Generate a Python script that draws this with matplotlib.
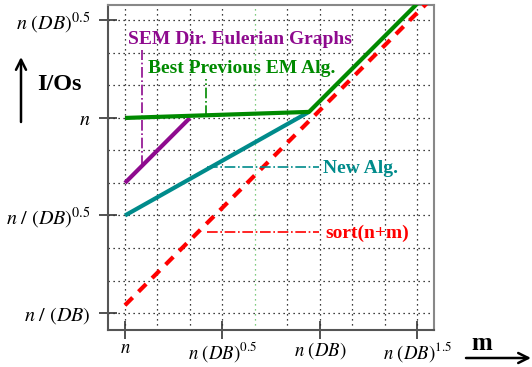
import matplotlib
matplotlib.use("Agg")
import matplotlib.pyplot as plt

plt.rcParams['mathtext.fontset'] = 'stix'
plt.rcParams['font.family'] = ['Liberation Serif', 'DejaVu Serif']

# exponents of DB relative to n
x_ticks = [0, 0.5, 1, 1.5]
x_tick_labels = [r'$n$', r'$n\ (DB)^{0.5}$', r'$n\ (DB)$', r'$n\ (DB)^{1.5}$']
y_ticks = [-1, -0.5, 0, 0.5]
y_tick_labels = [r'$n\ /\ (DB)$', r'$n\ /\ (DB)^{0.5}$', r'$n$', r'$n\ (DB)^{0.5}$']

sort_x = [0, 1.65]
sort_y = [-0.96, 0.69]
prev_x = [0, 0.944, 1.65]
prev_y = [0, 0.031, 0.737]
new_x = [0, 0.944]
new_y = [-0.5, 0.031]
sem_x = [0, 0.333]
sem_y = [-0.333, 0]

labels = ['SEM Dir. Eulerian Graphs', 'Best Previous EM Alg.', 'New Alg.', 'sort(n+m)']

PURPLE = '#8e0a8e'
GREEN = '#008a00'
TEAL = '#008b8b'
RED = '#ff0000'

fig = plt.figure(figsize=(5.32, 3.67), dpi=100)
ax = fig.add_axes([108/532, 1-330/367, (434-108)/532, (330-5)/367])
ax.set_xlim(-0.087, 1.585)
ax.set_ylim(-1.087, 0.579)

# grid
for i in range(0, 10):
    gx = i/6
    col = '#55bb55' if i == 4 else 'black'
    ax.axvline(gx, color=col, lw=0.9, ls=(0, (1, 3)), zorder=1)
for i in range(-6, 4):
    gy = i/6
    ax.axhline(gy, color='black', lw=0.9, ls=(0, (1, 3)), zorder=1)

ax.plot(sort_x, sort_y, color=RED, lw=3, ls=(0, (2.6, 2.0)), zorder=3)
ax.plot(new_x, new_y, color=TEAL, lw=3, solid_capstyle='butt', zorder=4)
ax.plot(sem_x, sem_y, color=PURPLE, lw=3, solid_capstyle='butt', zorder=4)
ax.plot(prev_x, prev_y, color=GREEN, lw=3, solid_capstyle='butt', zorder=5)

# annotation leaders
ax.plot([0.087, 0.087], [-0.246, 0.349], color=PURPLE, lw=1.2, ls='-.', zorder=3)
ax.plot([0.415, 0.415], [0.012, 0.20], color=GREEN, lw=1.2, ls='-.', zorder=3)
ax.plot([0.42, 0.995], [-0.251, -0.251], color=TEAL, lw=1.2, ls='-.', zorder=3)
ax.plot([0.42, 0.995], [-0.585, -0.585], color=RED, lw=1.2, ls='-.', zorder=3)

tfs = 14
ax.text(0.015, 0.379, labels[0], color=PURPLE, fontsize=tfs, fontweight='bold', va='baseline', ha='left', zorder=6)
ax.text(0.118, 0.229, labels[1], color=GREEN, fontsize=tfs, fontweight='bold', va='baseline', ha='left', zorder=6)
ax.text(1.015, -0.282, labels[2], color=TEAL, fontsize=tfs, fontweight='bold', va='baseline', ha='left', zorder=6)
ax.text(1.03, -0.615, labels[3], color=RED, fontsize=tfs, fontweight='bold', va='baseline', ha='left', zorder=6)

ax.set_xticks(x_ticks)
ax.set_xticklabels(x_tick_labels, fontsize=13.5)
ax.set_yticks(y_ticks)
ax.set_yticklabels(y_tick_labels, fontsize=14.5)
ax.tick_params(axis='both', direction='inout', length=13, width=1.2, color='#333333')
ax.tick_params(axis='x', pad=1)
ax.tick_params(axis='y', pad=6)

for s in ['left', 'bottom']:
    ax.spines[s].set_color('#555555')
    ax.spines[s].set_linewidth(1.5)
for s in ['top', 'right']:
    ax.spines[s].set_color('#888888')
    ax.spines[s].set_linewidth(1.5)

# axis labels with arrows
fig.text(37/532, 1-84/367, 'I/Os', fontsize=17.5, fontweight='bold', ha='left', va='center')
ax.annotate('', xy=(21/532, 1-57/367), xytext=(21/532, 1-122/367), xycoords='figure fraction',
            textcoords='figure fraction', arrowprops=dict(arrowstyle='->', lw=1.8, color='black',
                                                          mutation_scale=18, shrinkA=0, shrinkB=0))
fig.text(471/532, 1-350/367, 'm', fontsize=18, fontweight='bold', ha='left', va='baseline')
ax.annotate('', xy=(531/532, 1-358/367), xytext=(466/532, 1-358/367), xycoords='figure fraction',
            textcoords='figure fraction', arrowprops=dict(arrowstyle='->', lw=1.8, color='black',
                                                          mutation_scale=18, shrinkA=0, shrinkB=0))

fig.savefig('out.png', dpi=100)
